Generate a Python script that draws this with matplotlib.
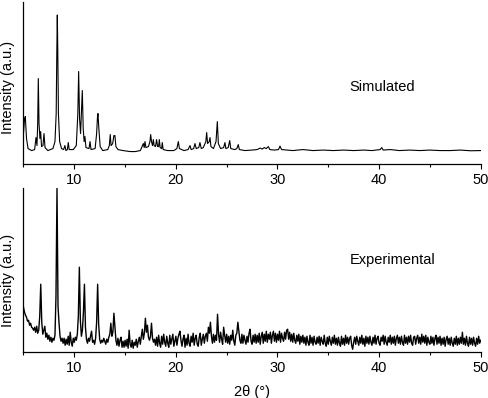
import numpy as np
import matplotlib.pyplot as plt
from matplotlib.ticker import MultipleLocator

plt.rcParams['font.family'] = ['Liberation Sans', 'DejaVu Sans']

# simulated pattern, (2theta, intensity)
sim_2theta = [5.0, 5.1, 5.18, 5.3, 5.45, 5.8, 6.1, 6.23, 6.33, 6.40, 6.46, 6.53, 6.62, 6.69, 6.78,
              6.92, 7.02, 7.12, 7.4, 7.9, 8.1, 8.22, 8.28, 8.33, 8.38, 8.44, 8.56, 8.75, 8.95,
              9.08, 9.18, 9.32, 9.41, 9.5, 9.9, 10.2, 10.35, 10.43, 10.52, 10.62, 10.72, 10.79,
              10.88, 10.97, 11.05, 11.15, 11.45, 11.55, 11.65, 12.05, 12.2, 12.28, 12.33, 12.42,
              12.55, 12.8, 13.3, 13.45, 13.54, 13.62, 13.78, 13.9, 14.0, 14.1, 14.3, 14.8, 15.5,
              16.0, 16.5, 16.8, 16.88, 16.96, 17.05, 17.3, 17.45, 17.52, 17.6, 17.7, 17.78, 17.86,
              18.0, 18.1, 18.2, 18.3, 18.37, 18.45, 18.6, 18.66, 18.75, 19.2, 19.8, 20.1, 20.24,
              20.35, 20.8, 21.2, 21.39, 21.5, 21.75, 21.88, 22.0, 22.25, 22.37, 22.5, 22.7, 22.86,
              22.95, 23.03, 23.12, 23.28, 23.36, 23.45, 23.7, 23.95, 24.08, 24.18, 24.4, 24.7,
              24.83, 24.92, 25.15, 25.3, 25.4, 25.8, 26.0, 26.14, 26.25, 26.8, 27.5, 28.0, 28.3,
              28.5, 28.7, 28.9, 29.1, 29.25, 29.7, 30.1, 30.25, 30.4, 30.9, 31.5, 32.5, 33.5,
              34.5, 35.5, 36.5, 37.5, 38.5, 39.3, 40.1, 40.26, 40.4, 41.1, 42.0, 43.0, 44.0,
              45.0, 46.0, 47.0, 48.0, 49.0, 50.0]
sim_intensity = [30, 44, 47, 25, 15, 13, 14, 26, 18, 40, 85, 40, 25, 32, 17,
                 18, 30, 16, 13, 15, 22, 50, 110, 148.5, 110, 50, 22, 15, 14,
                 18, 13, 14, 21, 14, 14, 18, 50, 92, 45, 30, 55, 73,
                 35, 22, 27, 16, 15, 22, 14, 15, 30, 46, 50, 35,
                 17, 13, 14, 18, 29, 18, 20, 28, 28, 17, 14, 13, 12,
                 12, 13, 20, 16, 22, 16, 17, 22, 29, 22, 18, 24, 18,
                 17, 24, 17, 17, 24, 16, 15, 21, 14, 13, 13, 15, 22,
                 15, 13, 14, 18, 14, 15, 20, 15, 16, 21, 15, 16, 20,
                 22, 31, 20, 22, 26, 17, 15, 22, 42, 20, 15, 16,
                 21, 15, 16, 23, 15, 14, 15, 19, 14, 13, 13.5, 14, 15.5,
                 14.5, 16, 15, 17, 14, 13.5, 14, 17.5, 14, 13.5, 13, 14, 13,
                 13.5, 13, 13.5, 13, 13.5, 13, 14, 16, 13.5, 14, 13, 13.5, 13,
                 13.5, 13, 13, 13.5, 12.8, 13]

# experimental pattern, step 0.1 deg from 5.0 to 50.0
exp_start = 5.0
exp_step = 0.1
exp_intensity = [
    45, 40, 37, 35, 31, 32, 27, 29, 25, 24,
    22, 25, 20, 26, 19, 22, 36, 68, 30, 18,
    22, 26, 15, 19, 13, 17, 11, 15, 10, 14,
    12, 17, 56, 164, 46, 29, 16, 11, 14, 9,
    14, 7, 13, 8, 16, 7, 20, 10, 6, 14,
    10, 15, 12, 18, 36, 85, 32, 16, 22, 40,
    68, 25, 13, 9, 14, 11, 16, 21, 10, 12,
    8, 14, 30, 68, 28, 13, 9, 12, 10, 14,
    11, 8, 13, 10, 15, 18, 29, 16, 20, 39,
    25, 12, 7, 14, 6, 12, 15, 5, 11, 5,
    12, 6, 13, 4, 22, 8, 5, 12, 4, 10,
    7, 13, 5, 11, 15, 8, 16, 23, 13, 19,
    34, 20, 27, 15, 12, 16, 29, 14, 10, 13,
    7, 15, 6, 17, 9, 5, 16, 8, 18, 10,
    6, 16, 9, 5, 17, 8, 13, 18, 6, 11,
    16, 7, 14, 18, 21, 12, 6, 13, 17, 5,
    14, 7, 18, 9, 6, 16, 10, 19, 7, 14,
    17, 8, 6, 15, 19, 7, 13, 18, 9, 16,
    19, 11, 25, 19, 30, 16, 9, 18, 10, 17,
    12, 38, 18, 10, 20, 13, 8, 25, 17, 10,
    18, 9, 16, 8, 17, 12, 22, 11, 7, 17,
    19, 30, 21, 12, 9, 18, 9, 17, 12, 8,
    16, 10, 19, 23, 11, 8, 17, 10, 18, 9,
    17, 10, 19, 8, 16, 20, 9, 18, 11, 21,
    10, 18, 13, 20, 9, 17, 21, 11, 19, 10,
    18, 12, 21, 10, 19, 14, 11, 20, 13, 22,
    23, 13, 20, 11, 18, 10, 19, 12, 9, 17,
    11, 18, 8, 16, 10, 17, 9, 15, 7, 16,
    10, 7, 17, 9, 15, 7, 16, 10, 8, 15,
    9, 16, 7, 15, 11, 8, 17, 9, 6, 15,
    8, 16, 11, 7, 15, 9, 17, 8, 14, 7,
    15, 9, 6, 16, 8, 14, 7, 17, 9, 15,
    8, 14, 16, 7, 3, 10, 15, 8, 16, 11,
    7, 15, 9, 17, 8, 14, 6, 16, 9, 15,
    8, 16, 10, 7, 15, 9, 17, 8, 14, 16,
    9, 7, 15, 11, 17, 8, 16, 10, 7, 15,
    10, 17, 8, 15, 9, 16, 7, 14, 17, 9,
    15, 8, 16, 10, 7, 17, 9, 15, 8, 16,
    10, 17, 9, 7, 15, 16, 8, 14, 17, 9,
    15, 8, 18, 10, 16, 9, 17, 7, 15, 10,
    8, 16, 9, 15, 7, 14, 17, 8, 15, 9,
    16, 7, 14, 8, 15, 6, 13, 16, 8, 14,
    7, 15, 9, 6, 14, 8, 16, 7, 14, 8,
    15, 9, 20, 8, 14, 7, 16, 9, 6, 15,
    8, 14, 7, 15, 9, 6, 14, 8, 16, 9,
    12]
exp_2theta = exp_start + exp_step * np.arange(len(exp_intensity))

fig = plt.figure(figsize=(4.89, 3.98), dpi=100)
ax1 = fig.add_axes([0.048, 0.589, 0.935, 0.406])
ax2 = fig.add_axes([0.048, 0.115, 0.935, 0.412])

ax1.plot(sim_2theta, sim_intensity, color='black', lw=0.8)
ax2.plot(exp_2theta, exp_intensity, color='black', lw=1.0)

ax1.set_ylim(0, 161.5)
ax2.set_ylim(0, 164)
ax1.text(40.26, 77, 'Simulated', ha='center', va='center', fontsize=10.5)
ax2.text(41.34, 92, 'Experimental', ha='center', va='center', fontsize=10.5)

for ax, ly in [(ax1, 0.474), (ax2, 0.44)]:
    ax.set_xlim(5, 50)
    ax.xaxis.set_major_locator(MultipleLocator(10))
    ax.xaxis.set_minor_locator(MultipleLocator(5))
    ax.tick_params(axis='x', which='major', direction='out', length=3.6, width=0.8, labelsize=10.5, pad=3)
    ax.tick_params(axis='x', which='minor', direction='out', length=2.2, width=0.8)
    ax.set_yticks([])
    ax.spines['top'].set_visible(False)
    ax.spines['right'].set_visible(False)
    ax.spines['left'].set_linewidth(0.9)
    ax.spines['bottom'].set_linewidth(0.9)
    ax.set_ylabel('Intensity (a.u.)', fontsize=10.5)
    ax.yaxis.set_label_coords(-0.019, ly)

ax2.set_xlabel('2θ (°)', fontsize=10.5, labelpad=7)

fig.savefig('out.png', dpi=100)
